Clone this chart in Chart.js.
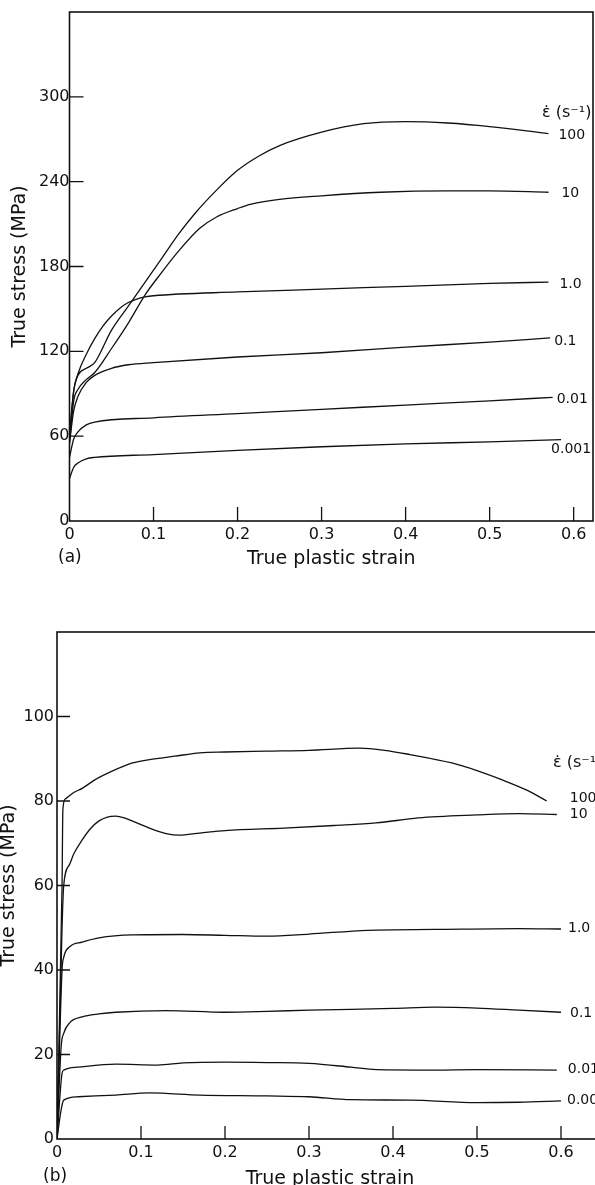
<!DOCTYPE html>
<html>
<head>
<meta charset="utf-8">
<script src="https://cdn.jsdelivr.net/npm/chart.js@4.4.1/dist/chart.umd.min.js"></script>
<style>
  html, body { margin: 0; padding: 0; background: #fff; overflow: hidden; }
  body { width: 595px; height: 1185px; position: relative; }
  canvas { position: absolute; left: 0; }
  #chartA { top: 0; }
  #chartB { top: 600px; }
</style>
</head>
<body>
<canvas id="chartA" width="595" height="580"></canvas>
<canvas id="chartB" width="605" height="600"></canvas>
<script>
// strain-rate labels, same order in both panels
const rateLabels = ['100', '10', '1.0', '0.1', '0.01', '0.001'];

const xTicks = [0, 0.1, 0.2, 0.3, 0.4, 0.5, 0.6];
const yTicksA = [0, 60, 120, 180, 240, 300];
const yTicksB = [0, 20, 40, 60, 80, 100];

// (a) [true plastic strain, true stress MPa]
const a100 = [[0,60],[0.005,92],[0.01,103],[0.02,108],[0.03,112],[0.05,135],[0.07,152],[0.09,169],[0.11,186],[0.13,203],[0.15,218],[0.175,234],[0.2,248],[0.225,258],[0.25,265.5],[0.3,275],[0.35,281],[0.4,282.5],[0.45,281.5],[0.5,279],[0.57,274]];
const a10 = [[0,55],[0.005,85],[0.01,93],[0.02,100],[0.03,105],[0.05,122],[0.07,140],[0.09,160],[0.11,176],[0.13,191],[0.155,207],[0.175,215],[0.2,221],[0.215,224],[0.25,227.5],[0.3,230],[0.37,232.5],[0.45,233.5],[0.5,233.5],[0.57,232.5]];
const a1 = [[0,60],[0.005,92],[0.01,104],[0.02,118],[0.03,129],[0.04,138],[0.05,145],[0.06,150.5],[0.07,154.5],[0.08,157],[0.09,158.5],[0.1,159.3],[0.2,162],[0.3,164],[0.4,166],[0.5,168],[0.57,169]];
const a01 = [[0,55],[0.005,78],[0.01,88],[0.02,98],[0.03,103],[0.05,108],[0.07,110.5],[0.1,112],[0.2,116],[0.3,119],[0.4,123],[0.5,126.5],[0.572,129.5]];
const a001 = [[0,45],[0.005,58],[0.01,63],[0.02,68],[0.03,70],[0.1,73],[0.2,76],[0.3,79],[0.4,82],[0.5,85],[0.575,87.5]];
const a0001 = [[0,30],[0.005,38],[0.01,41],[0.02,44],[0.03,45],[0.1,47],[0.2,50],[0.3,52.5],[0.4,54.5],[0.5,56],[0.585,57.5]];

// (b)
const b100 = [[0,0],[0.006,60],[0.007,78],[0.01,80.5],[0.02,82],[0.03,83],[0.045,85],[0.065,87],[0.09,89],[0.11,89.8],[0.14,90.6],[0.17,91.4],[0.2,91.6],[0.25,91.8],[0.3,92],[0.36,92.5],[0.39,92],[0.42,91],[0.47,89],[0.5,87.2],[0.53,85],[0.56,82.5],[0.583,80]];
const b10 = [[0,0],[0.006,50],[0.008,60],[0.015,65],[0.02,67.5],[0.03,70.8],[0.04,73.5],[0.05,75.3],[0.06,76.2],[0.07,76.4],[0.08,76],[0.095,74.8],[0.11,73.6],[0.13,72.3],[0.145,71.9],[0.17,72.4],[0.2,73],[0.27,73.6],[0.33,74.2],[0.38,74.8],[0.43,76],[0.5,76.7],[0.55,77],[0.595,76.8]];
const b1 = [[0,0],[0.006,40],[0.008,43],[0.015,45.5],[0.03,46.6],[0.05,47.6],[0.09,48.3],[0.15,48.4],[0.2,48.2],[0.25,48],[0.3,48.5],[0.37,49.4],[0.45,49.6],[0.55,49.8],[0.6,49.7]];
const b01 = [[0,0],[0.005,22],[0.008,25],[0.015,27.5],[0.03,28.9],[0.05,29.6],[0.07,30],[0.13,30.4],[0.2,30],[0.25,30.2],[0.3,30.5],[0.4,30.9],[0.45,31.2],[0.5,31],[0.55,30.5],[0.6,30]];
const b001 = [[0,0],[0.006,15.5],[0.008,16.3],[0.025,17],[0.07,17.7],[0.12,17.5],[0.15,18],[0.2,18.2],[0.25,18.1],[0.3,17.9],[0.35,17],[0.38,16.4],[0.45,16.3],[0.5,16.4],[0.595,16.3]];
const b0001 = [[0,0],[0.005,7],[0.008,9.2],[0.025,10],[0.07,10.4],[0.11,10.9],[0.17,10.4],[0.25,10.2],[0.3,10],[0.35,9.3],[0.42,9.2],[0.5,8.6],[0.55,8.7],[0.6,9]];

const ink = '#111';
const fontTicks = { family: "'DejaVu Sans', sans-serif", size: 16 };
const fontTitle = { family: "'DejaVu Sans', sans-serif", size: 19, lineHeight: 1 };

// frame, inward tick marks, curve labels and panel letter
const framePlugin = {
    id: 'frame',
    afterDraw(chart, args, opts) {
        const { ctx, chartArea: ca, scales: { x, y } } = chart;
        ctx.save();
        ctx.strokeStyle = ink;
        ctx.lineWidth = 1.6;
        ctx.strokeRect(ca.left, ca.top, ca.right - ca.left, ca.bottom - ca.top);

        ctx.lineWidth = 1.3;
        ctx.beginPath();
        x.ticks.forEach(t => {
            if (t.value === 0) return;
            const px = x.getPixelForValue(t.value);
            ctx.moveTo(px, ca.bottom);
            ctx.lineTo(px, ca.bottom - opts.tick);
        });
        y.ticks.forEach(t => {
            if (t.value === 0) return;
            const py = y.getPixelForValue(t.value);
            ctx.moveTo(ca.left, py);
            ctx.lineTo(ca.left + opts.tick, py);
        });
        ctx.stroke();

        ctx.fillStyle = ink;
        ctx.textAlign = 'left';
        ctx.textBaseline = 'middle';
        ctx.font = "14px 'DejaVu Sans', sans-serif";
        chart.data.datasets.forEach((ds, i) => {
            const pts = chart.getDatasetMeta(i).data;
            const last = pts[pts.length - 1];
            const [dx, dy] = opts.offsets[i];
            ctx.fillText(ds.label, last.x + dx, last.y + dy);
        });
        ctx.font = "16px 'DejaVu Sans', sans-serif";
        ctx.fillText('\u03B5\u0307 (s\u207B\u00B9)', opts.header[0], opts.header[1]);

        ctx.font = "17px 'DejaVu Sans', sans-serif";
        ctx.fillText(opts.panel, opts.panelPos[0], opts.panelPos[1]);
        ctx.restore();
    }
};

function makeDatasets(series) {
    return series.map((pts, i) => ({
        label: rateLabels[i],
        data: pts.map(p => ({ x: p[0], y: p[1] })),
        borderColor: ink,
        borderWidth: 1.3,
        pointRadius: 0,
        fill: false,
        cubicInterpolationMode: 'monotone'
    }));
}

function makeOptions(cfg) {
    return {
        responsive: false,
        animation: false,
        layout: { padding: { top: cfg.top, right: 2, left: 0, bottom: 0 } },
        plugins: {
            legend: { display: false },
            tooltip: { enabled: false },
            frame: cfg.frame
        },
        scales: {
            x: {
                type: 'linear',
                min: 0,
                max: cfg.xMax,
                afterBuildTicks: s => { s.ticks = xTicks.map(v => ({ value: v })); },
                afterFit: s => { s.height = cfg.xHeight; },
                grid: { display: false, drawTicks: false },
                border: { display: false },
                ticks: {
                    color: ink,
                    font: fontTicks,
                    padding: 4,
                    maxRotation: 0,
                    autoSkip: false,
                    callback: v => v === 0 ? '0' : v.toFixed(1)
                },
                title: { display: true, text: 'True plastic strain', color: ink, font: fontTitle, padding: { top: 0, bottom: 11.5 } }
            },
            y: {
                min: 0,
                max: cfg.yMax,
                afterBuildTicks: s => { s.ticks = cfg.yTicks.map(v => ({ value: v })); },
                afterFit: s => { s.width = cfg.yWidth; },
                grid: { display: false, drawTicks: false },
                border: { display: false },
                ticks: { color: ink, font: fontTicks, padding: cfg.yTickPad },
                title: { display: true, text: 'True stress (MPa)', color: ink, font: fontTitle, padding: { top: cfg.yTitlePad, bottom: 0 } }
            }
        }
    };
}

new Chart(document.getElementById('chartA'), {
    type: 'line',
    data: { datasets: makeDatasets([a100, a10, a1, a01, a001, a0001]) },
    options: makeOptions({
        top: 12, xMax: 0.623, xHeight: 59, yMax: 360, yTicks: yTicksA, yWidth: 69.5, yTitlePad: 10.5, yTickPad: 0,
        frame: {
            tick: 14,
            offsets: [[10, 2], [13, 1], [11, 2], [4, 3], [4, 2], [-10, 10]],
            header: [542, 113],
            panel: '(a)',
            panelPos: [58, 558]
        }
    }),
    plugins: [framePlugin]
});

new Chart(document.getElementById('chartB'), {
    type: 'line',
    data: { datasets: makeDatasets([b100, b10, b1, b01, b001, b0001]) },
    options: makeOptions({
        top: 32, xMax: 0.65, xHeight: 61, yMax: 120, yTicks: yTicksB, yWidth: 57, yTitlePad: 0, yTickPad: 3,
        frame: {
            tick: 13,
            offsets: [[23, -3], [13, 0], [7, -1], [9, 1], [11, -1], [6, -1]],
            header: [553, 163],
            panel: '(b)',
            panelPos: [43, 577]
        }
    }),
    plugins: [framePlugin]
});
</script>
</body>
</html>
